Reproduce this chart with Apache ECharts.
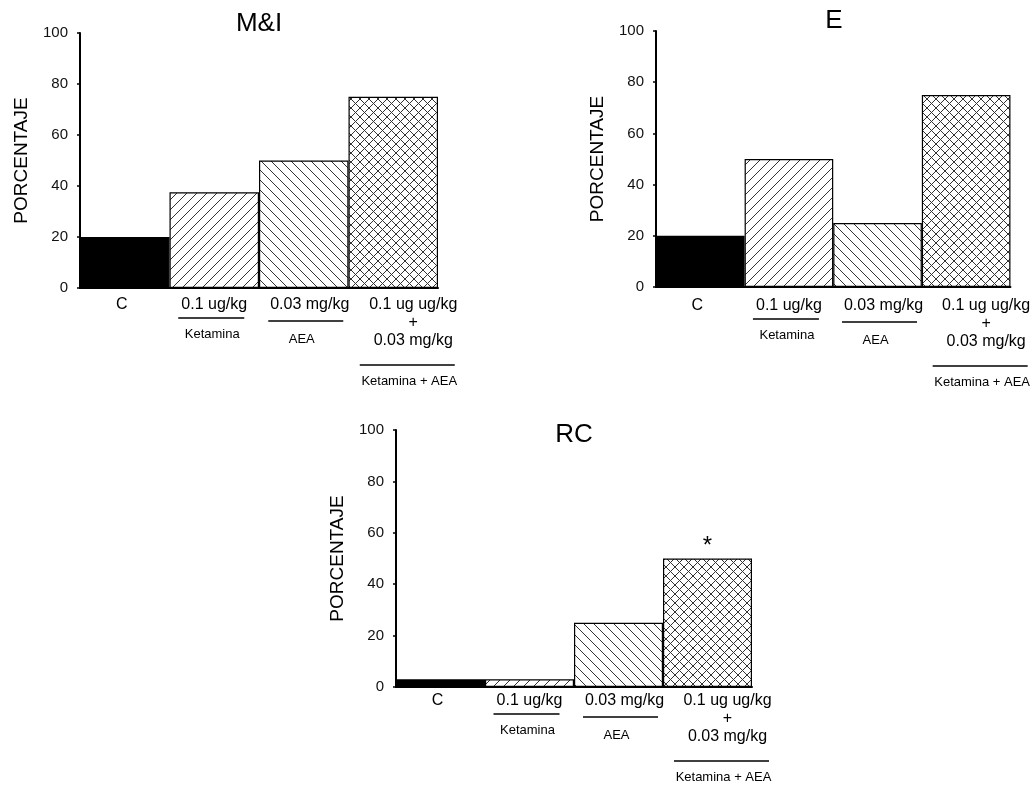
<!DOCTYPE html>
<html>
<head>
<meta charset="utf-8">
<title>Porcentaje por grupo</title>
<script src="https://cdn.jsdelivr.net/npm/echarts@6/dist/echarts.min.js"></script>
<style>
  html, body { margin: 0; padding: 0; background: #fff; }
  #chart { width: 1033px; height: 787px; }
</style>
</head>
<body>
<div id="chart"></div>
<script>
// dose labels under each bar
var doseLabels = ['C', '0.1 ug/kg', '0.03 mg/kg', '0.1 ug ug/kg\n+\n0.03 mg/kg'];
// treatment groups written under the short rules
var groupLabels = ['', 'Ketamina', 'AEA', 'Ketamina + AEA'];
var panelTitles = ['M&I', 'E', 'RC'];
var yTicks = [0, 20, 40, 60, 80, 100];
var yName = 'PORCENTAJE';

var valuesMI = [20, 37.5, 50, 75];
var valuesE = [20, 50, 25, 75];
var valuesRC = [3, 3, 25, 50];
var marksRC = ['', '', '', '*'];

var FONT = '"Liberation Sans", Arial, sans-serif';

// grid boxes, title top, vertical nudge of the text under the axis
var panels = [
  { left: 80, top: 33, width: 358, height: 255, titleTop: 11, dy: 0 },
  { left: 656, top: 31, width: 356, height: 256, titleTop: 8, dy: 2 },
  { left: 396, top: 430, width: 356, height: 257, titleTop: 422, dy: -3 }
];
var labelShift = [-3, 0, 6, 20];
var ruleY = [0, 30, 33, 77];
var ruleW = [0, 66, 75, 95];
var ruleDx = [0, -3, 2, 14];
var groupY = [0, 46, 51, 93];
var groupDx = [0, -2, -2, 16];

const makePattern = (kind) => {
  const size = kind === 'cross' ? 9 : 10;
  const c = document.createElement('canvas');
  c.width = size;
  c.height = size;
  const ctx = c.getContext('2d');
  ctx.fillStyle = '#fff';
  ctx.fillRect(0, 0, size, size);
  ctx.strokeStyle = '#333';
  ctx.lineWidth = 1;
  ctx.beginPath();
  if (kind === 'slash' || kind === 'cross') {
    ctx.moveTo(-1, size + 1); ctx.lineTo(size + 1, -1);
    ctx.moveTo(-1, 1); ctx.lineTo(1, -1);
    ctx.moveTo(size - 1, size + 1); ctx.lineTo(size + 1, size - 1);
  }
  if (kind === 'back' || kind === 'cross') {
    ctx.moveTo(-1, -1); ctx.lineTo(size + 1, size + 1);
    ctx.moveTo(size - 1, -1); ctx.lineTo(size + 1, 1);
    ctx.moveTo(-1, size - 1); ctx.lineTo(1, size + 1);
  }
  ctx.stroke();
  return { image: c, repeat: 'repeat' };
};

var fills = ['#000', makePattern('slash'), makePattern('back'), makePattern('cross')];

const richShift = {};
labelShift.forEach((s, i) => {
  richShift['s' + i] = {
    fontSize: 16, lineHeight: 18, color: '#000', fontFamily: FONT,
    padding: s >= 0 ? [0, 0, 0, 2 * s] : [0, -2 * s, 0, 0]
  };
});

const seriesValues = [valuesMI, valuesE, valuesRC];
const seriesMarks = [null, null, marksRC];

const option = {
  animation: false,
  backgroundColor: '#fff',
  title: panels.map((p, i) => ({
    text: panelTitles[i],
    left: p.left + p.width / 2,
    top: p.titleTop,
    padding: 0,
    textAlign: 'center',
    textStyle: { fontSize: 26, fontWeight: 'normal', color: '#000', fontFamily: FONT }
  })),
  grid: panels.map(p => ({ left: p.left, top: p.top, width: p.width, height: p.height })),
  xAxis: panels.map((p, i) => ({
    type: 'category',
    gridIndex: i,
    data: doseLabels,
    axisLine: { lineStyle: { color: '#000', width: 2 } },
    axisTick: { show: false },
    axisLabel: {
      interval: 0,
      margin: 8 + p.dy,
      formatter: (v, idx) => '{s' + idx + '|' + v + '}',
      rich: richShift
    }
  })),
  yAxis: panels.map((p, i) => ({
    type: 'value',
    gridIndex: i,
    min: yTicks[0],
    max: yTicks[yTicks.length - 1],
    interval: yTicks[1] - yTicks[0],
    name: yName,
    nameLocation: 'middle',
    nameGap: 49,
    nameRotate: 90,
    nameTextStyle: { fontSize: 19, color: '#000', fontFamily: FONT },
    axisLine: { show: true, lineStyle: { color: '#000', width: 2 } },
    axisTick: { show: true, length: 3, lineStyle: { color: '#000', width: 1.5 } },
    axisLabel: { fontSize: 15, color: '#111', margin: 12, fontFamily: FONT },
    splitLine: { show: false }
  })),
  series: seriesValues.map((vals, g) => ({
    type: 'bar',
    xAxisIndex: g,
    yAxisIndex: g,
    barCategoryGap: '0%',
    data: vals.map((v, i) => {
      const item = { value: v, itemStyle: { color: fills[i] } };
      const marks = seriesMarks[g];
      if (marks && marks[i]) {
        item.label = {
          show: true, position: 'top', distance: 0, formatter: marks[i],
          fontSize: 24, color: '#000', fontFamily: FONT
        };
      }
      return item;
    }),
    itemStyle: { borderColor: '#000', borderWidth: 1.2 }
  }))
};

const chart = echarts.init(document.getElementById('chart'));
chart.setOption(option);

// group rules and group names under the dose labels
const graphics = [];
panels.forEach((p, g) => {
  const y0 = chart.convertToPixel({ gridIndex: g }, [0, 0])[1];
  groupLabels.forEach((name, i) => {
    if (!name) return;
    const x = chart.convertToPixel({ gridIndex: g }, [i, 0])[0];
    const cx = x + ruleDx[i];
    graphics.push({
      type: 'line',
      shape: { x1: cx - ruleW[i] / 2, y1: y0 + ruleY[i] + p.dy, x2: cx + ruleW[i] / 2, y2: y0 + ruleY[i] + p.dy },
      style: { stroke: '#000', lineWidth: 1.5 }
    });
    graphics.push({
      type: 'text',
      x: x + groupDx[i],
      y: y0 + groupY[i] + p.dy,
      style: {
        text: name, fontSize: 13, fill: '#000', fontFamily: FONT,
        textAlign: 'center', textVerticalAlign: 'middle'
      }
    });
  });
});
chart.setOption({ graphic: graphics });
</script>
</body>
</html>
